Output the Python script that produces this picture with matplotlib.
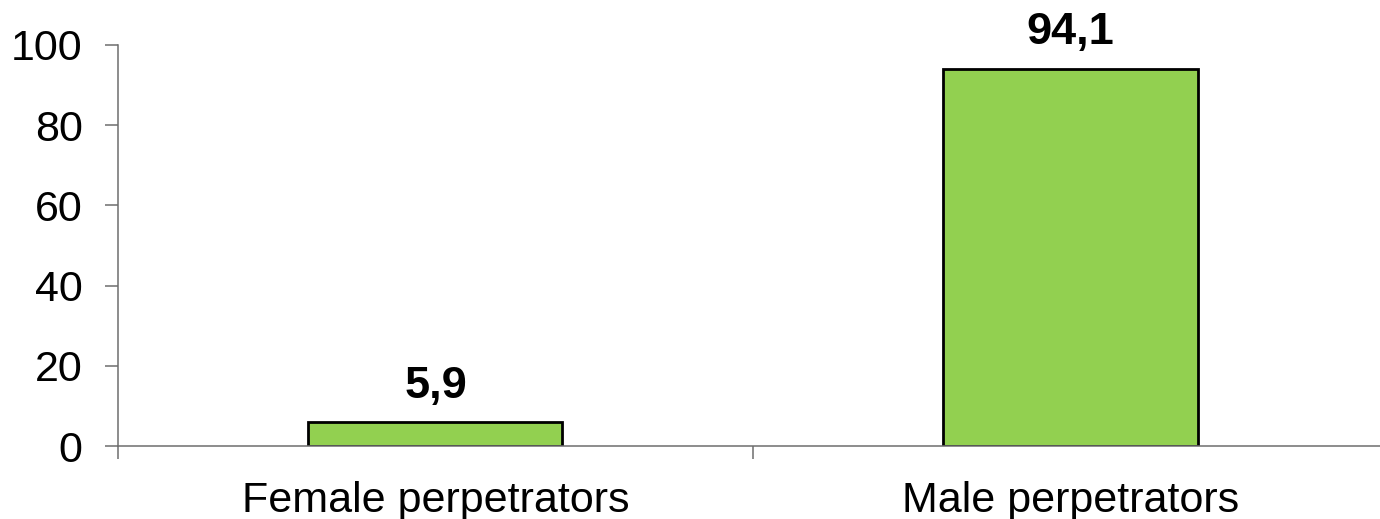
import matplotlib
matplotlib.use("Agg")
import matplotlib.pyplot as plt

plt.rcParams['font.family'] = ['Liberation Sans', 'DejaVu Sans']

categories = ["Female perpetrators", "Male perpetrators"]
values = [5.9, 94.1]
value_labels = ["5,9", "94,1"]

fig = plt.figure(figsize=(13.8, 5.19), dpi=100)
ax = fig.add_axes([118 / 1380, 1 - 446 / 519, 1270 / 1380, 401 / 519])

x = list(range(len(categories)))
bars = ax.bar(x, values, width=0.4, color="#92D050", edgecolor="black", linewidth=2)

for b, lab in zip(bars, value_labels):
    ax.annotate(lab, (b.get_x() + b.get_width() / 2, b.get_height()),
                xytext=(0, 11), textcoords="offset points",
                ha="center", va="bottom", fontsize=32.5, fontweight="bold")

ax.set_xlim(-0.5, 1.5)
ax.set_ylim(0, 100)
ax.set_yticks([0, 20, 40, 60, 80, 100])
ax.set_xticks([-0.5, 0.5, 1.5])
ax.set_xticklabels([])
ax.set_xticks(x, minor=True)
ax.set_xticklabels(categories, minor=True)

for s in ["top", "right"]:
    ax.spines[s].set_visible(False)
for s in ["left", "bottom"]:
    ax.spines[s].set_color("#6e6e6e")
    ax.spines[s].set_linewidth(1.1)

ax.tick_params(axis="y", which="major", length=9.5, width=1.1, color="#6e6e6e",
               labelsize=31, pad=16)
ax.tick_params(axis="x", which="major", length=9, width=1.1, color="#6e6e6e")
ax.tick_params(axis="x", which="minor", length=0, labelsize=31, pad=25)

fig.savefig("out.png", dpi=100)
